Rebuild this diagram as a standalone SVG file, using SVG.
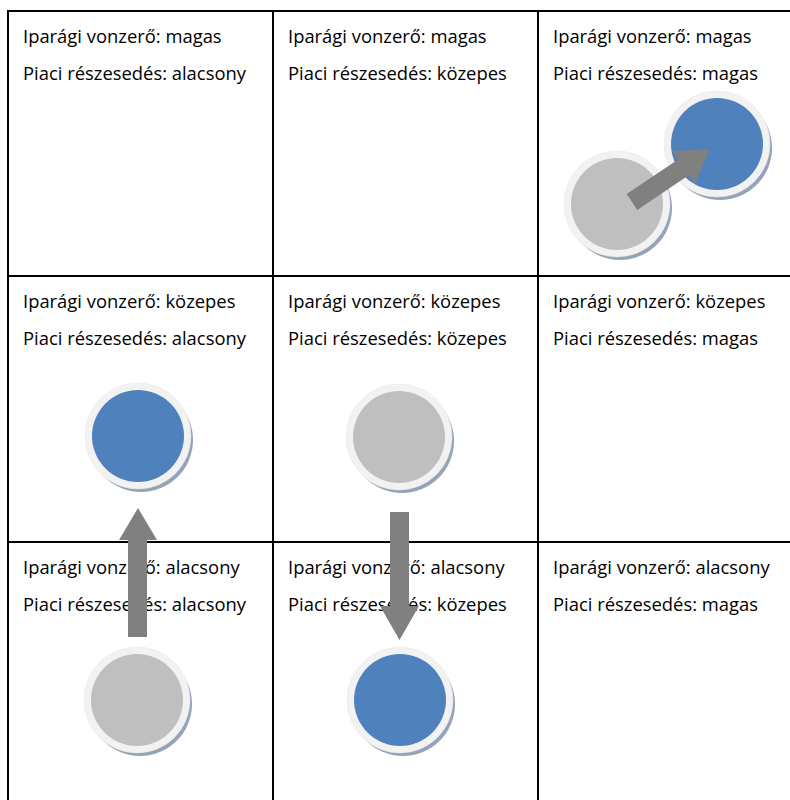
<svg xmlns="http://www.w3.org/2000/svg" width="790" height="800" viewBox="0 0 790 800">
<defs>
<style>
.grid{stroke:#000;stroke-width:2;fill:none}
.t{font-family:"Open Sans",Lato,"Liberation Sans",sans-serif;font-size:18.4px;fill:#000}
.shadow{fill:#95a3b8}
.ring{fill:#f2f2f2;stroke:#e6e6e6;stroke-width:0.5}
.blue{fill:#4f81bd}
.gray{fill:#bfbfbf}
.arrow{fill:#808080}
</style>
<g id="node-blue">
<circle class="shadow" cx="3" cy="4" r="52"/>
<circle class="ring" cx="0" cy="0" r="53"/>
<circle class="blue" cx="0" cy="0" r="46"/>
</g>
<g id="node-gray">
<circle class="shadow" cx="3" cy="4" r="52"/>
<circle class="ring" cx="0" cy="0" r="53"/>
<circle class="gray" cx="0" cy="0" r="46"/>
</g>
</defs>
<rect width="790" height="800" fill="#fff"/>
<g id="grid">
<line class="grid" x1="8" y1="11" x2="790" y2="11"/>
<line class="grid" x1="8" y1="276" x2="790" y2="276"/>
<line class="grid" x1="8" y1="542" x2="790" y2="542"/>
<line class="grid" x1="8" y1="10" x2="8" y2="800"/>
<line class="grid" x1="273" y1="10" x2="273" y2="800"/>
<line class="grid" x1="538" y1="10" x2="538" y2="800"/>
</g>
<g id="labels">
<g id="cell-1-1"><text class="t" x="23" y="43">Iparági vonzerő: magas</text><text class="t" x="23" y="80">Piaci részesedés: alacsony</text></g>
<g id="cell-1-2"><text class="t" x="288" y="43">Iparági vonzerő: magas</text><text class="t" x="288" y="80">Piaci részesedés: közepes</text></g>
<g id="cell-1-3"><text class="t" x="553" y="43">Iparági vonzerő: magas</text><text class="t" x="553" y="80">Piaci részesedés: magas</text></g>
<g id="cell-2-1"><text class="t" x="23" y="308">Iparági vonzerő: közepes</text><text class="t" x="23" y="345">Piaci részesedés: alacsony</text></g>
<g id="cell-2-2"><text class="t" x="288" y="308">Iparági vonzerő: közepes</text><text class="t" x="288" y="345">Piaci részesedés: közepes</text></g>
<g id="cell-2-3"><text class="t" x="553" y="308">Iparági vonzerő: közepes</text><text class="t" x="553" y="345">Piaci részesedés: magas</text></g>
<g id="cell-3-1"><text class="t" x="23" y="574">Iparági vonzerő: alacsony</text><text class="t" x="23" y="611">Piaci részesedés: alacsony</text></g>
<g id="cell-3-2"><text class="t" x="288" y="574">Iparági vonzerő: alacsony</text><text class="t" x="288" y="611">Piaci részesedés: közepes</text></g>
<g id="cell-3-3"><text class="t" x="553" y="574">Iparági vonzerő: alacsony</text><text class="t" x="553" y="611">Piaci részesedés: magas</text></g>
</g>
<g id="n-top-blue"><use href="#node-blue" x="717" y="144"/></g>
<g id="n-top-gray"><use href="#node-gray" x="617" y="204"/></g>
<g id="n-mid-blue"><use href="#node-blue" x="138" y="436"/></g>
<g id="n-mid-gray"><use href="#node-gray" x="399" y="437"/></g>
<g id="n-low-gray"><use href="#node-gray" x="137" y="700"/></g>
<g id="n-low-blue"><use href="#node-blue" x="400" y="700"/></g>
<g id="connectors">
<path class="arrow" d="M0,-9.5 L62,-9.5 L62,-20 L94,0 L62,20 L62,9.5 L0,9.5 Z" transform="translate(632,202) rotate(-34)"/>
<path class="arrow" d="M128,637 L128,540 L119,540 L138,508 L157,540 L147,540 L147,637 Z"/>
<path class="arrow" d="M390,512 L409,512 L409,606 L419,606 L399.5,640 L380,606 L390,606 Z"/>
</g>
</svg>
